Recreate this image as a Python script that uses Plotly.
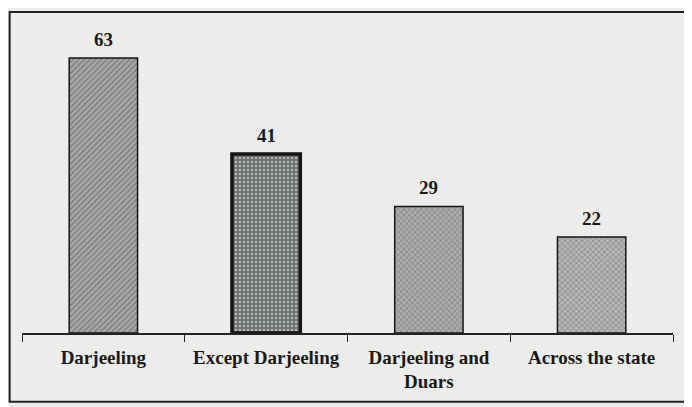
import plotly.graph_objects as go

categories = ["Darjeeling", "Except Darjeeling", "Darjeeling and<br>Duars", "Across the state"]
values = [63, 41, 29, 22]
fill_colors = ["#a8a8a6", "#6e7171", "#acacaa", "#b6b6b4"]
pattern_shapes = ["/", ".", "x", "x"]
pattern_colors = ["#606060", "#505353", "#6a6a6a", "#747474"]
line_widths = [1.5, 3.5, 1.5, 1.5]

fig = go.Figure()
fig.add_trace(go.Bar(
    x=categories, y=values,
    marker=dict(
        color=fill_colors,
        line=dict(color="#151515", width=line_widths),
        pattern=dict(shape=pattern_shapes, fgcolor=pattern_colors, size=4, solidity=0.3),
    ),
    width=0.42,
))

for c, v in zip(categories, values):
    fig.add_annotation(
        x=c, y=v, text=f"<b>{v}</b>", showarrow=False,
        yanchor="bottom", yshift=6,
        font=dict(family="Liberation Serif", size=19, color="#1a1a1a"),
    )

fig.update_layout(
    width=692, height=407,
    margin=dict(l=14, r=27, t=12, b=82),
    paper_bgcolor="#ecedea",
    plot_bgcolor="#ecedea",
    showlegend=False,
    font=dict(family="Liberation Serif", color="#1a1a1a"),
    shapes=[dict(type="rect", xref="paper", yref="paper",
                 x0=-0.019, x1=1.026, y0=-0.22, y1=1.0256,
                 line=dict(color="#222222", width=2))],
)
fig.update_xaxes(
    automargin=False, tickangle=0,
    showline=True, linecolor="#222222", linewidth=1.5,
    ticks="outside", tickson="boundaries", ticklen=7, tickcolor="#222222",
    tickfont=dict(family="Liberation Serif", size=19, color="#1a1a1a"),
    tickprefix="<b>", ticksuffix="</b>",
    ticklabelstandoff=6,
    showgrid=False,
)
fig.update_yaxes(range=[0, 71.7], visible=False, showgrid=False, zeroline=False, automargin=False)

fig.write_html("out.html")
